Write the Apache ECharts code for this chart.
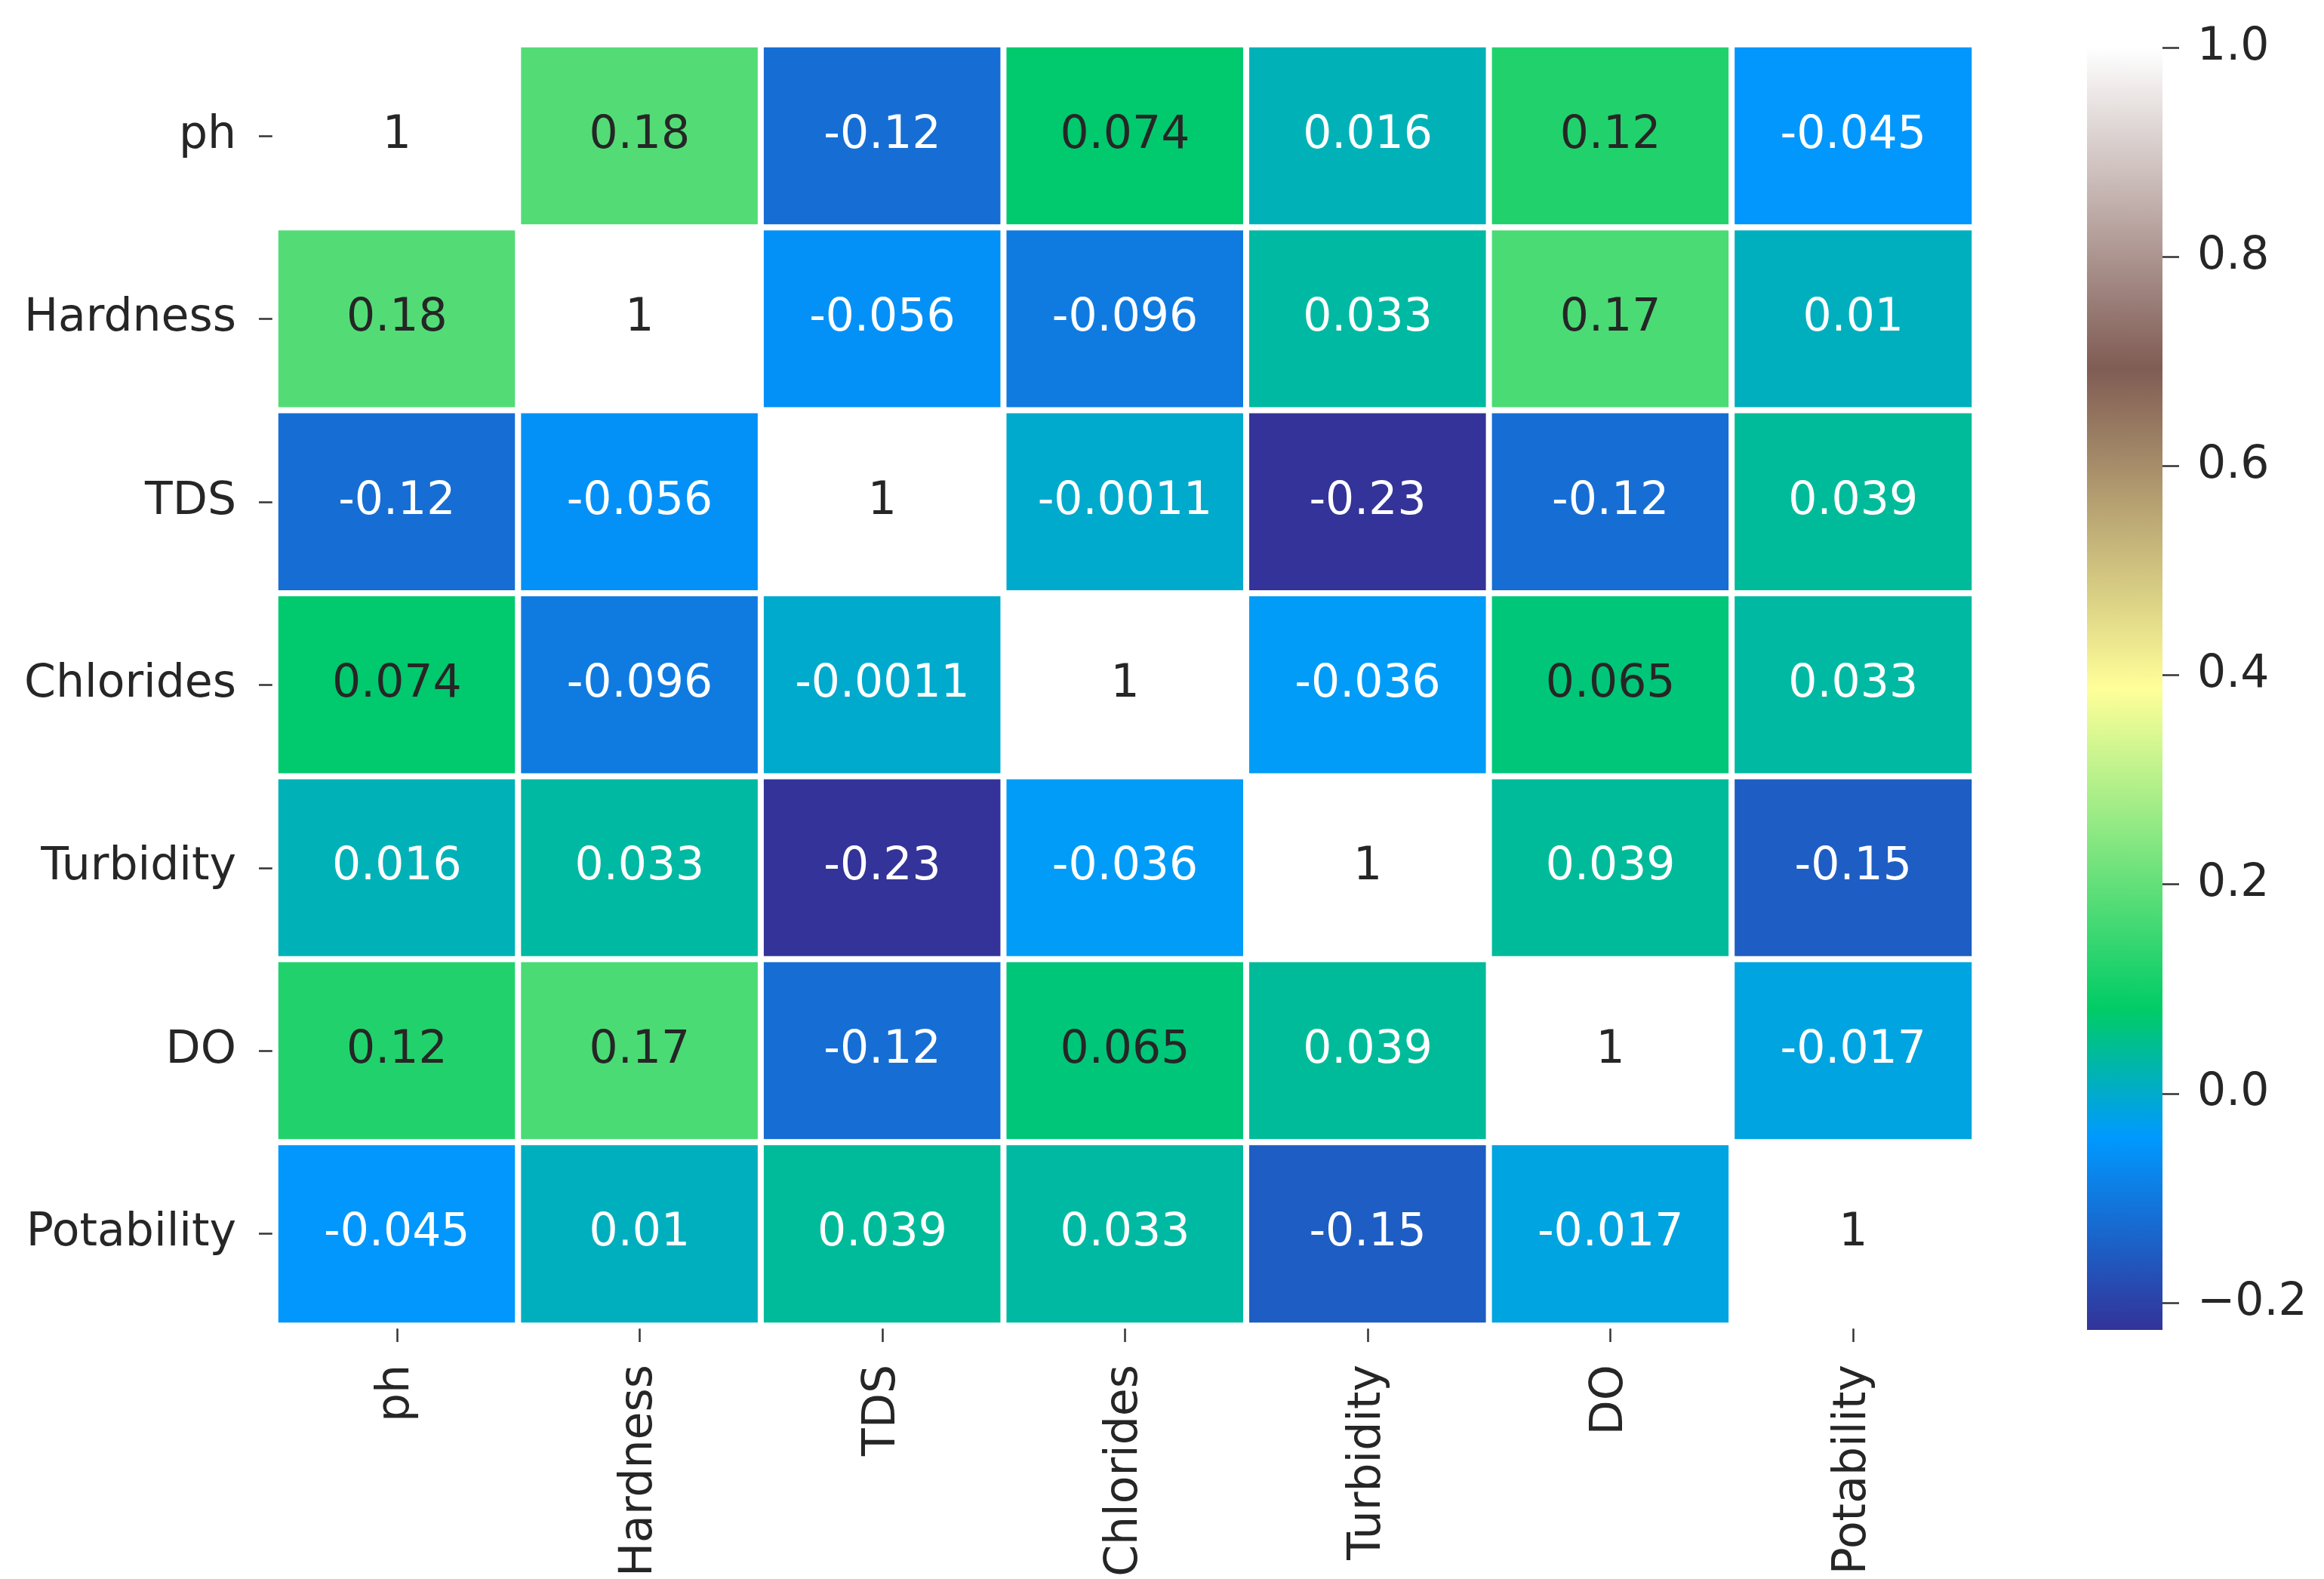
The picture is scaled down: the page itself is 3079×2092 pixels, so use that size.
<!DOCTYPE html>
<html>
<head>
<meta charset="utf-8">
<script src="https://cdn.jsdelivr.net/npm/echarts@6/dist/echarts.min.js"></script>
<style>
  html, body { margin: 0; padding: 0; background: #ffffff; }
  #chart { width: 3079px; height: 2092px; }
</style>
</head>
<body>
<div id="chart"></div>
<script>
// ---- data ----
const labels = ['ph', 'Hardness', 'TDS', 'Chlorides', 'Turbidity', 'DO', 'Potability'];
const row_ph         = [1, 0.18, -0.12, 0.074, 0.016, 0.12, -0.045];
const row_hardness   = [0.18, 1, -0.056, -0.096, 0.033, 0.17, 0.01];
const row_tds        = [-0.12, -0.056, 1, -0.0011, -0.23, -0.12, 0.039];
const row_chlorides  = [0.074, -0.096, -0.0011, 1, -0.036, 0.065, 0.033];
const row_turbidity  = [0.016, 0.033, -0.23, -0.036, 1, 0.039, -0.15];
const row_do         = [0.12, 0.17, -0.12, 0.065, 0.039, 1, -0.017];
const row_potability = [-0.045, 0.01, 0.039, 0.033, -0.15, -0.017, 1];
const rows = [row_ph, row_hardness, row_tds, row_chlorides, row_turbidity, row_do, row_potability];
const colorbarTicks = [-0.2, 0.0, 0.2, 0.4, 0.6, 0.8, 1.0];
const vmin = -0.226, vmax = 1.0;

// matplotlib "terrain" colormap stops
const terrainStops = [
  [0.00, [0.2, 0.2, 0.6]],
  [0.15, [0.0, 0.6, 1.0]],
  [0.25, [0.0, 0.8, 0.4]],
  [0.50, [1.0, 1.0, 0.6]],
  [0.75, [0.5, 0.36, 0.33]],
  [1.00, [1.0, 1.0, 1.0]]
];
function terrain(t) {
  for (let i = 0; i < terrainStops.length - 1; i++) {
    const [t0, c0] = terrainStops[i], [t1, c1] = terrainStops[i + 1];
    if (t <= t1 + 1e-9) {
      const f = (t - t0) / (t1 - t0);
      const c = c0.map((v, k) => Math.round(255 * (v + (c1[k] - v) * f)));
      return 'rgb(' + c.join(',') + ')';
    }
  }
  return 'rgb(255,255,255)';
}
const cmap = [];
for (let i = 0; i <= 20; i++) cmap.push(terrain(i / 20));

const FONT = 'DejaVu Sans';
const TEXT = '#262626';
const FS = 60;

// colorbar placement
const CB = { left: 2765, top: 63, width: 100, height: 1699 };

const data = [];
rows.forEach((row, yi) => {
  row.forEach((v, xi) => {
    data.push({
      value: [xi, yi, v],
      label: { color: v > 0.05 ? TEXT : '#ffffff' }
    });
  });
});

const chart = echarts.init(document.getElementById('chart'), null, { renderer: 'canvas' });
chart.setOption({
  backgroundColor: '#ffffff',
  animation: false,
  grid: [
    { left: 365, top: 59, width: 2251, height: 1699, containLabel: false },
    // thin grid whose left edge is the colorbar's right edge: carries ticks + labels
    { left: CB.left + CB.width, top: CB.top, width: 10, height: CB.height, containLabel: false }
  ],
  xAxis: [
    {
      type: 'category', data: labels, gridIndex: 0, position: 'bottom',
      axisLine: { show: false },
      axisTick: { show: true, alignWithLabel: true, length: 22, lineStyle: { color: '#333', width: 2.5 } },
      axisLabel: { rotate: 90, margin: 52, fontFamily: FONT, fontSize: FS, color: TEXT },
      splitLine: { show: false }
    },
    { type: 'value', gridIndex: 1, show: false, min: 0, max: 1 }
  ],
  yAxis: [
    {
      type: 'category', data: labels, gridIndex: 0, inverse: true,
      axisLine: { show: false },
      axisTick: { show: true, alignWithLabel: true, length: 22, lineStyle: { color: '#333', width: 2.5 } },
      axisLabel: { margin: 52, fontFamily: FONT, fontSize: FS, color: TEXT },
      splitLine: { show: false }
    },
    {
      type: 'value', gridIndex: 1, position: 'left', min: vmin, max: vmax,
      axisLine: { show: false },
      splitLine: { show: false },
      axisTick: { show: true, inside: true, length: 22, customValues: colorbarTicks, lineStyle: { color: '#333', width: 2.5 } },
      axisLabel: {
        inside: true, margin: 46, fontFamily: FONT, fontSize: FS, color: TEXT,
        customValues: colorbarTicks,
        formatter: v => (v < 0 ? '\u2212' + Math.abs(v).toFixed(1) : v.toFixed(1))
      }
    }
  ],
  visualMap: {
    type: 'continuous', min: vmin, max: vmax, calculable: false, show: false,
    seriesIndex: 0,
    inRange: { color: cmap }
  },
  graphic: [{
    type: 'rect', z: 0, silent: true,
    shape: { x: CB.left, y: CB.top, width: CB.width, height: CB.height },
    style: {
      fill: new echarts.graphic.LinearGradient(0, 1, 0, 0,
        cmap.map((c, i) => ({ offset: i / (cmap.length - 1), color: c })))
    }
  }],
  series: [{
    type: 'heatmap', xAxisIndex: 0, yAxisIndex: 0,
    data: data,
    itemStyle: { borderColor: '#ffffff', borderWidth: 8 },
    label: {
      show: true, fontFamily: FONT, fontSize: FS,
      formatter: p => String(p.value[2])
    },
    emphasis: { disabled: true }
  }]
});
</script>
</body>
</html>
